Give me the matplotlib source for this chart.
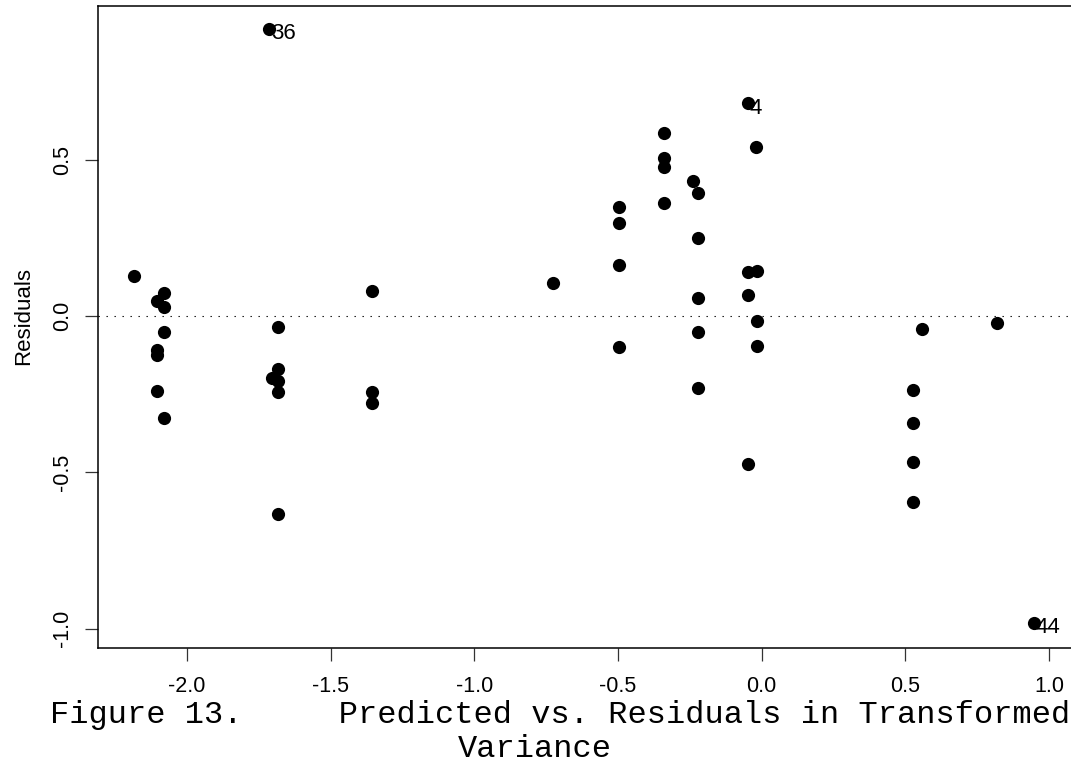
import numpy as np
import matplotlib
matplotlib.use('Agg')
import matplotlib.pyplot as plt

# predicted (transformed variance) vs residuals
predicted = [-2.185, -2.079, -2.106, -2.079, -2.079, -2.106, -2.106, -2.106, -2.079,
             -1.714, -1.682, -1.682, -1.706, -1.682, -1.682, -1.682,
             -1.357, -1.357, -1.357,
             -0.725, -0.496, -0.496, -0.496, -0.496,
             -0.339, -0.339, -0.339, -0.339,
             -0.238, -0.221, -0.221, -0.221, -0.221, -0.221,
             -0.047, -0.047, -0.047, -0.047, -0.020, -0.017, -0.017, -0.017,
             0.528, 0.528, 0.528, 0.528, 0.557, 0.820, 0.949]
residuals = [0.128, 0.073, 0.049, 0.030, -0.052, -0.109, -0.125, -0.239, -0.325,
             0.919, -0.036, -0.171, -0.197, -0.207, -0.242, -0.634,
             0.080, -0.242, -0.279,
             0.107, 0.348, 0.297, 0.163, -0.098,
             0.587, 0.507, 0.476, 0.361,
             0.433, 0.393, 0.249, 0.059, -0.050, -0.231,
             0.681, 0.140, 0.067, -0.474, 0.540, 0.143, -0.015, -0.095,
             -0.237, -0.343, -0.466, -0.596, -0.042, -0.023, -0.981]

# identified outliers
labelled = {'36': 9, '4': 34, '44': 48}

xticks = [-2.0, -1.5, -1.0, -0.5, 0.0, 0.5, 1.0]
yticks = [-1.0, -0.5, 0.0, 0.5]

caption1 = "Figure 13.     Predicted vs. Residuals in Transformed"
caption2 = "Variance"

W, H = 1071, 764
fig = plt.figure(figsize=(W / 100, H / 100), dpi=100)

# plot box in pixels (the right edge runs just past the picture)
left, right, top, bottom = 98.3, 1073.7, 6.0, 648.0
ax = fig.add_axes([left / W, (H - bottom) / H, (right - left) / W, (bottom - top) / H])

ax.plot(predicted, residuals, 'o', color='black', markersize=9.5, markeredgewidth=0)
ax.axhline(0, color='black', lw=0.8, ls=(0, (1.2, 6)))

for name, i in labelled.items():
    ax.annotate(name, (predicted[i], residuals[i]), xytext=(1, -3.5),
                textcoords='offset points', ha='left', va='center',
                fontsize=16, family='Liberation Sans')

ax.set_xlim(-2.309, 1.086)
ax.set_ylim(-1.0624, 0.992)
ax.set_xticks(xticks)
ax.set_yticks(yticks)
ax.set_xticklabels([f"{t:.1f}" for t in xticks], family='Liberation Sans', fontsize=15.5)
ax.set_yticklabels([f"{t:.1f}" for t in yticks], family='Liberation Sans', fontsize=15.5,
                   rotation=90, va='center')
ax.tick_params(axis='both', direction='out', length=9.4, width=0.9, color='#333333')
ax.tick_params(axis='x', pad=11)
ax.tick_params(axis='y', pad=9)

for side in ['left', 'bottom', 'top']:
    ax.spines[side].set_linewidth(1.1)
ax.spines['right'].set_visible(False)

fig.text(24 / W, (H - 316) / H, "Residuals", family='Liberation Sans', fontsize=16,
         rotation=90, ha='center', va='center')

fig.text(50 / W, (H - 723) / H, caption1, family='Liberation Mono', fontsize=23,
         ha='left', va='baseline')
fig.text(458 / W, (H - 757) / H, caption2, family='Liberation Mono', fontsize=23,
         ha='left', va='baseline')

fig.savefig('out.png', dpi=100)
